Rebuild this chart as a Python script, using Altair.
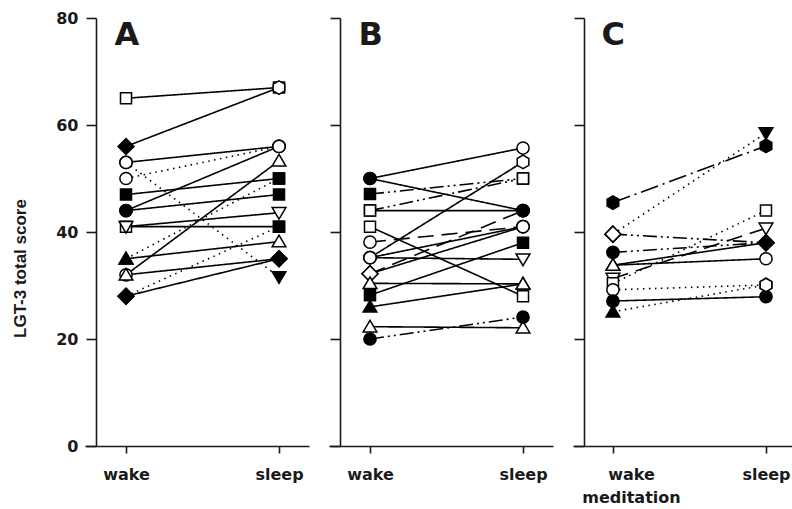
import altair as alt
import pandas as pd

# Scores per subject: wake value, sleep value, connecting line style and marker (shape-fill)
a_wake = [65, 56, 53, 44, 47, 44, 41, 41, 35, 32, 32, 28, 50, 53, 35, 28]
a_sleep = [67, 67, 56, 56, 50, 47, 43.6, 41, 38.2, 53.3, 35, 35, 56, 31.6, 50, 41]
a_style = ["solid"] * 12 + ["dotted"] * 4
a_wake_mark = ["square-o", "diamond-f", "circle-o", "circle-f", "square-f", "circle-f",
               "square-o", "tridown-o", "triup-f", "circle-o", "triup-o", "diamond-f",
               "circle-o", "circle-o", "triup-f", "diamond-f"]
a_sleep_mark = ["square-o", "hexagon-o", "circle-o", "circle-o", "square-f", "square-f",
                "tridown-o", "square-f", "triup-o", "triup-o", "diamond-f", "diamond-f",
                "circle-o", "tridown-f", "square-f", "square-f"]

b_wake = [50, 50, 47.1, 44, 44, 41, 38.1, 35.2, 35.2, 35.2, 32.2, 32.2, 30.4, 28.2, 26, 22.3, 20]
b_sleep = [55.7, 44, 50, 50, 44, 28, 41, 53.1, 41, 34.9, 44, 41, 30.3, 38, 30.3, 22.1, 24.1]
b_style = ["solid", "solid", "dashdotdot", "dashdotdot", "solid", "solid", "dashed", "solid",
           "solid", "solid", "dashed", "solid", "solid", "solid", "solid", "solid", "dashdotdot"]
b_wake_mark = ["circle-f", "circle-f", "square-f", "square-o", "square-o", "square-o",
               "circle-o", "circle-o", "circle-o", "circle-o", "diamond-o", "diamond-o",
               "triup-o", "square-f", "triup-f", "triup-o", "circle-f"]
b_sleep_mark = ["circle-o", "circle-f", "square-o", "square-o", "circle-f", "square-o",
                "circle-o", "hexagon-o", "circle-o", "tridown-o", "circle-f", "circle-o",
                "triup-o", "square-f", "triup-o", "triup-o", "circle-f"]

c_wake = [45.5, 39.6, 39.6, 36.2, 33.8, 33.8, 31.3, 30.4, 29.2, 27.1, 25.1]
c_sleep = [56.1, 58.5, 38, 38, 38, 35, 40.7, 44, 30.1, 27.9, 30.1]
c_style = ["dashdot", "dotted", "dashdotdot", "dashdotdot", "solid", "solid", "dashed",
           "dotted", "dotted", "solid", "dotted"]
c_wake_mark = ["hexagon-f", "diamond-o", "diamond-o", "circle-f", "triup-o", "triup-o",
               "tridown-o", "square-o", "circle-o", "circle-f", "triup-f"]
c_sleep_mark = ["hexagon-f", "tridown-f", "diamond-f", "diamond-f", "diamond-f", "circle-o",
                "tridown-o", "square-o", "hexagon-o", "circle-f", "hexagon-o"]

y_ticks = [0, 20, 40, 60, 80]

SHAPES = ["circle", "square", "diamond", "triup", "tridown", "hexagon"]
SHAPE_PATHS = [
    "circle",
    "M-0.9,-0.9L0.9,-0.9L0.9,0.9L-0.9,0.9Z",
    "M0,-1.3L1.3,0L0,1.3L-1.3,0Z",
    "M0,-1.05L1.12,0.85L-1.12,0.85Z",
    "M0,1.05L1.12,-0.85L-1.12,-0.85Z",
    "M0,-1.1L0.95,-0.55L0.95,0.55L0,1.1L-0.95,0.55L-0.95,-0.55Z",
]
STYLES = ["solid", "dotted", "dashed", "dashdot", "dashdotdot"]
DASHES = [[1, 0], [1.5, 4.5], [16, 8], [18, 5, 2, 5], [14, 4, 2, 4, 2, 4]]

FONT = "DejaVu Sans"
INK = "#1a1a1a"


def build_frame(wake, sleep, style, wake_mark, sleep_mark):
    rows = []
    for i in range(len(wake)):
        for cond, val, mark in ((0, wake[i], wake_mark[i]), (1, sleep[i], sleep_mark[i])):
            shape, fill = mark.split("-")
            rows.append(dict(subject=i, cond=cond, score=val, style=style[i],
                             shape=shape, fill=fill))
    return pd.DataFrame(rows)


def panel(df, letter, width, xmin, xmax, first, meditation):
    if meditation:
        label_expr = "datum.value == 0 ? ['wake', 'meditation'] : 'sleep'"
        label_offset = {"condition": {"test": "datum.value == 0", "value": 18}, "value": 0}
    else:
        label_expr = "datum.value == 0 ? 'wake' : 'sleep'"
        label_offset = 0
    x = alt.X("cond:Q",
              scale=alt.Scale(domain=[xmin, xmax], nice=False, zero=False),
              axis=alt.Axis(values=[0, 1], labelExpr=label_expr, labelOffset=label_offset,
                            title=None, grid=False, tickSize=7, labelPadding=13,
                            labelFlush=False, labelOverlap=False, labelLineHeight=23))
    y_axis_kw = dict(values=y_ticks, grid=False, tickSize=10, offset=-11, labelPadding=8)
    if first:
        y_axis = alt.Axis(title="LGT-3 total score", titlePadding=26, titleY=250,
                          titleFont="Liberation Sans", titleFontSize=17,
                          titleFontWeight="bold", titleColor=INK, **y_axis_kw)
    else:
        y_axis = alt.Axis(title=None, labels=False, **y_axis_kw)
    y = alt.Y("score:Q", scale=alt.Scale(domain=[0, 80], nice=False), axis=y_axis)

    lines = alt.Chart(df).mark_line(color="black", strokeWidth=1.6).encode(
        x=x, y=y,
        detail="subject:N",
        strokeDash=alt.StrokeDash("style:N", scale=alt.Scale(domain=STYLES, range=DASHES),
                                  legend=None),
    )
    points = alt.Chart(df).mark_point(filled=True, size=150, stroke="black",
                                      strokeWidth=1.5, opacity=1).encode(
        x=x, y=y,
        shape=alt.Shape("shape:N", scale=alt.Scale(domain=SHAPES, range=SHAPE_PATHS),
                        legend=None),
        fill=alt.Fill("fill:N", scale=alt.Scale(domain=["o", "f"], range=["white", "black"]),
                      legend=None),
    )
    # panel letter, one row of data so it is drawn once
    tag = alt.Chart(pd.DataFrame({"letter": [letter]})).mark_text(
        font=FONT, fontSize=32, fontWeight="bold", align="left",
        baseline="alphabetic", color=INK
    ).encode(x=alt.datum(-0.075), y=alt.datum(75), text="letter:N")
    return alt.layer(lines, points, tag).properties(width=width, height=428)


df_a = build_frame(a_wake, a_sleep, a_style, a_wake_mark, a_sleep_mark)
df_b = build_frame(b_wake, b_sleep, b_style, b_wake_mark, b_sleep_mark)
df_c = build_frame(c_wake, c_sleep, c_style, c_wake_mark, c_sleep_mark)

chart = alt.hconcat(
    panel(df_a, "A", 224, -0.268, 1.196, True, False),
    panel(df_b, "B", 224, -0.268, 1.196, False, False),
    panel(df_c, "C", 219, -0.261, 1.17, False, True),
    spacing=20,
).properties(
    padding={"left": 11, "top": 10, "right": 0, "bottom": 0}
).configure_view(
    stroke=None
).configure_axis(
    domainColor=INK, tickColor=INK, labelColor=INK, domainWidth=1.6, tickWidth=1.6,
    labelFont=FONT, labelFontSize=16, labelFontWeight="bold"
)

chart.save("out.html", embed_options={"renderer": "svg", "actions": False})
